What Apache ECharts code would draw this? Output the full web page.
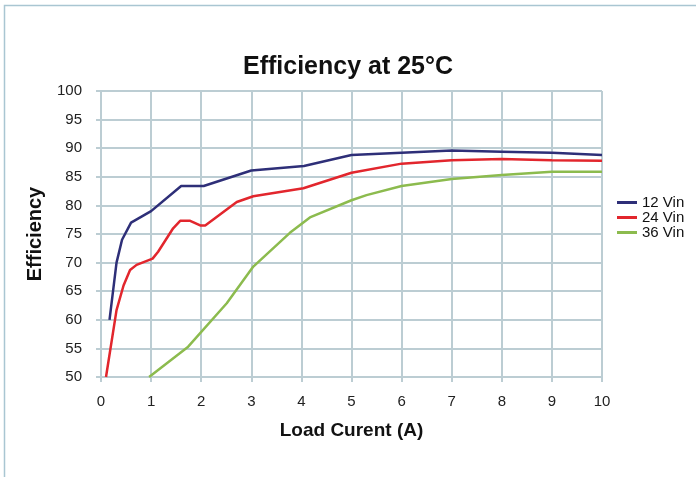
<!DOCTYPE html>
<html>
<head>
<meta charset="utf-8">
<script src="https://cdn.jsdelivr.net/npm/echarts@6/dist/echarts.min.js"></script>
<style>
html,body{margin:0;padding:0;background:#fff;}
#chart{width:696px;height:477px;}
</style>
</head>
<body>
<div id="chart"></div>
<script>
var titleText = 'Efficiency at 25°C';
var xAxisTitle = 'Load Curent (A)';
var yAxisTitle = 'Efficiency';
var seriesNames = ['12 Vin', '24 Vin', '36 Vin'];

var current12 = [0.17, 0.31, 0.42, 0.6, 1.0, 1.6, 2.05, 3.0, 4.05, 5.0, 6.0, 7.0, 8.0, 9.0, 10.0];
var eff12     = [60, 70, 74, 77, 79, 83.4, 83.4, 86.1, 86.9, 88.8, 89.2, 89.6, 89.4, 89.2, 88.8];

var current24 = [0.1, 0.31, 0.45, 0.58, 0.71, 1.03, 1.14, 1.44, 1.58, 1.78, 1.98, 2.08, 2.71, 3.04, 4.04, 5.0, 6.0, 7.0, 8.0, 9.0, 10.0];
var eff24     = [50, 61.7, 66, 68.7, 69.6, 70.7, 71.9, 76, 77.3, 77.3, 76.5, 76.5, 80.6, 81.6, 83.0, 85.7, 87.3, 87.9, 88.1, 87.9, 87.8];

var current36 = [0.96, 1.74, 2.51, 3.04, 3.77, 4.17, 5.0, 5.3, 6.0, 7.0, 8.0, 9.0, 10.0];
var eff36     = [50, 55.3, 62.9, 69.3, 75.2, 77.9, 80.9, 81.8, 83.4, 84.6, 85.3, 85.9, 85.9];

var colors = ['#2e2f78', '#e2262d', '#8cbb4e'];

function pairs(xs, ys) { return xs.map(function (x, i) { return [x, ys[i]]; }); }

var chart = echarts.init(document.getElementById('chart'), null, {renderer: 'canvas'});
var font = '"Liberation Sans", Arial, sans-serif';
var gridColor = '#bccdd3';

chart.setOption({
  animation: false,
  backgroundColor: '#ffffff',
  textStyle: {fontFamily: font},
  title: {
    text: titleText,
    left: 'center',
    top: 50,
    textStyle: {fontSize: 25, fontWeight: 'bold', color: '#111', fontFamily: font}
  },
  graphic: [{
    type: 'rect',
    shape: {x: 4.5, y: 5.5, width: 1000, height: 1000},
    style: {fill: 'none', stroke: '#a9c6d2', lineWidth: 1.5},
    silent: true
  }],
  legend: {
    orient: 'vertical',
    left: 612,
    top: 190,
    itemWidth: 20,
    itemHeight: 3,
    itemGap: 0,
    icon: 'rect',
    textStyle: {fontSize: 15, color: '#111', fontFamily: font, lineHeight: 14.5},
    data: seriesNames
  },
  grid: {left: 101, right: 94, top: 91, bottom: 100, containLabel: false},
  xAxis: {
    type: 'value',
    min: 0, max: 10, interval: 1,
    name: xAxisTitle,
    nameLocation: 'middle',
    nameGap: 44,
    nameTextStyle: {fontSize: 19, fontWeight: 'bold', color: '#111', fontFamily: font},
    axisLine: {show: true, lineStyle: {color: gridColor, width: 2}},
    axisTick: {show: true, length: 5, lineStyle: {color: gridColor, width: 2}},
    axisLabel: {fontSize: 15, color: '#222', margin: 17, fontFamily: font},
    splitLine: {show: true, lineStyle: {color: gridColor, width: 2}}
  },
  yAxis: {
    type: 'value',
    min: 50, max: 100, interval: 5,
    name: yAxisTitle,
    nameLocation: 'middle',
    nameGap: 56,
    nameTextStyle: {fontSize: 20, fontWeight: 'bold', color: '#111', fontFamily: font},
    axisLine: {show: true, lineStyle: {color: gridColor, width: 2}},
    axisTick: {show: true, length: 5, lineStyle: {color: gridColor, width: 2}},
    axisLabel: {fontSize: 15, color: '#222', margin: 19, fontFamily: font},
    splitLine: {show: true, lineStyle: {color: gridColor, width: 2}}
  },
  series: [
    {name: seriesNames[0], type: 'line', data: pairs(current12, eff12), showSymbol: false, lineStyle: {width: 2.5, color: colors[0]}, itemStyle: {color: colors[0]}},
    {name: seriesNames[1], type: 'line', data: pairs(current24, eff24), showSymbol: false, lineStyle: {width: 2.5, color: colors[1]}, itemStyle: {color: colors[1]}},
    {name: seriesNames[2], type: 'line', data: pairs(current36, eff36), showSymbol: false, lineStyle: {width: 2.5, color: colors[2]}, itemStyle: {color: colors[2]}}
  ]
});
</script>
</body>
</html>
